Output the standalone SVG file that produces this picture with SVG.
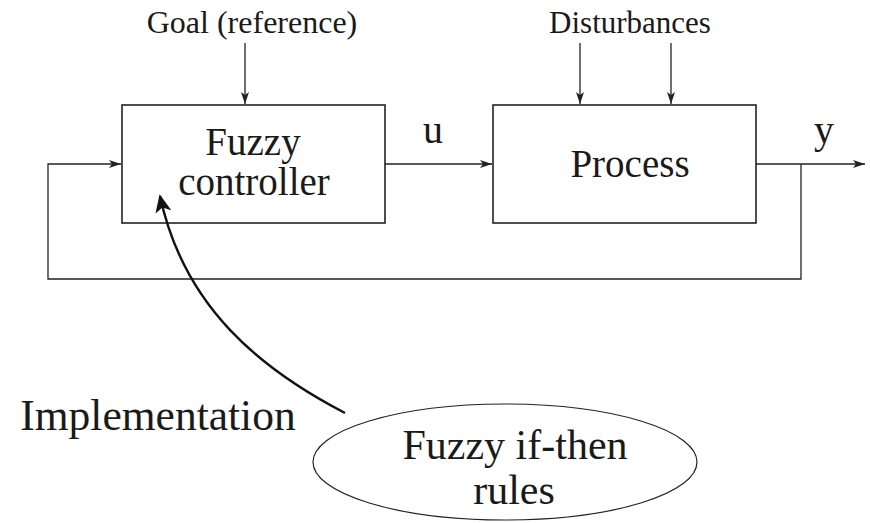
<svg xmlns="http://www.w3.org/2000/svg" width="870" height="523" viewBox="0 0 870 523">
  <style>
    .box { fill: #fff; stroke: #222; stroke-width: 1.6; }
    .wire { fill: none; stroke: #222; stroke-width: 1.3; }
    .t { font-family: "Liberation Serif", "Times New Roman", serif; fill: #1a1a1a; text-anchor: middle; }
  </style>
  <defs>
    <marker id="arr" viewBox="0 0 12 10" refX="12" refY="5" markerWidth="12" markerHeight="10" markerUnits="userSpaceOnUse" orient="auto">
      <path d="M0,1 L12,5 L0,9 L3,5 Z" fill="#222"/>
    </marker>
    <marker id="arrBig" viewBox="0 0 10 10" refX="9" refY="5" markerWidth="18" markerHeight="18" markerUnits="userSpaceOnUse" orient="auto">
      <path d="M0,0.5 L10,5 L0,9.5 L2.5,5 Z" fill="#111"/>
    </marker>
  </defs>

  <g id="labels">
    <text class="t" x="252" y="33" font-size="32">Goal (reference)</text>
    <text class="t" x="630" y="33" font-size="31">Disturbances</text>
    <text class="t" x="433" y="143" font-size="40">u</text>
    <text class="t" x="824" y="143" font-size="40">y</text>
    <text class="t" x="158" y="430" font-size="43.5">Implementation</text>
  </g>

  <g id="fuzzy-controller">
    <rect class="box" x="122" y="105" width="263" height="118"/>
    <text class="t" x="253" y="155" font-size="39">Fuzzy</text>
    <text class="t" x="254" y="195" font-size="39">controller</text>
  </g>

  <g id="process">
    <rect class="box" x="493" y="105" width="263" height="118"/>
    <text class="t" x="630" y="177" font-size="39">Process</text>
  </g>

  <g id="rules">
    <ellipse cx="505" cy="462" rx="192" ry="58" fill="#fff" stroke="#222" stroke-width="1.2"/>
    <text class="t" x="515" y="459" font-size="42">Fuzzy if-then</text>
    <text class="t" x="514" y="504" font-size="42">rules</text>
  </g>

  <g id="connectors">
    <!-- reference input -->
    <line class="wire" x1="245" y1="43" x2="245" y2="104" marker-end="url(#arr)"/>
    <!-- disturbances -->
    <line class="wire" x1="580" y1="43" x2="580" y2="104" marker-end="url(#arr)"/>
    <line class="wire" x1="671" y1="43" x2="671" y2="104" marker-end="url(#arr)"/>
    <!-- control signal u -->
    <line class="wire" x1="385" y1="164" x2="492" y2="164" marker-end="url(#arr)"/>
    <!-- output y -->
    <line class="wire" x1="756" y1="164" x2="865" y2="164" marker-end="url(#arr)"/>
    <!-- feedback loop -->
    <polyline class="wire" points="801,164 801,279 48,279 48,164 121,164" marker-end="url(#arr)"/>
    <!-- implementation arrow -->
    <path d="M345,413 C262,370 184,308 160,196" fill="none" stroke="#111" stroke-width="2.4" marker-end="url(#arrBig)"/>
  </g>
</svg>
